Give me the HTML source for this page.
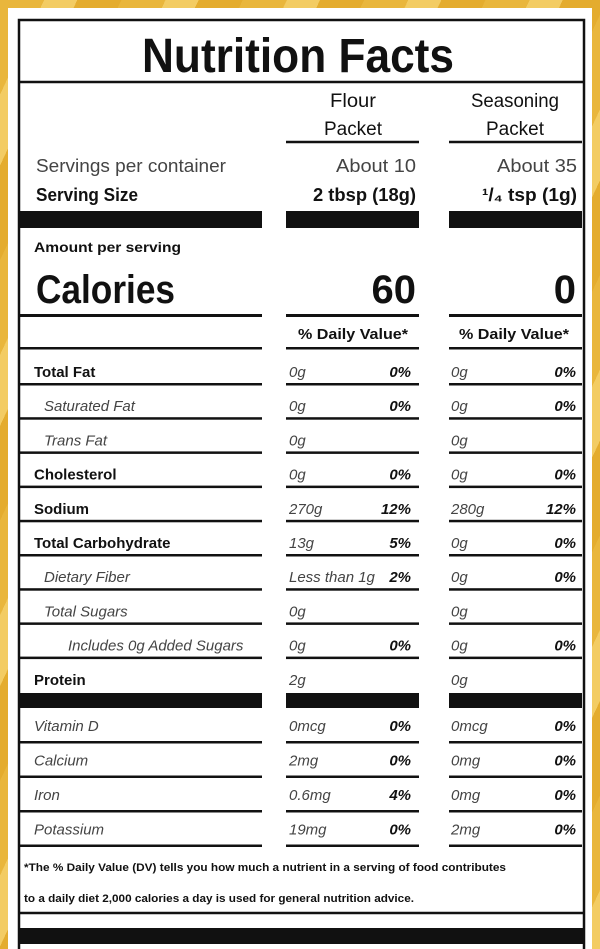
<!DOCTYPE html>
<html><head><meta charset="utf-8"><style>
html,body{margin:0;padding:0;width:600px;height:949px;overflow:hidden}
body{background:repeating-linear-gradient(115deg,#e9b63c 0 40px,#f3cc63 40px 70px,#e4ac2e 70px 110px);}
svg{position:absolute;left:0;top:0}
text{font-family:"Liberation Sans",sans-serif;fill:#111}
</style></head><body>
<svg id="lab" width="600" height="949">
<rect x="8" y="8" width="584" height="941" fill="#fff"/>
<rect x="19" y="20" width="565" height="940" fill="none" stroke="#111" stroke-width="2.5"/>
<text x="298" y="72" font-size="48" font-weight="bold" text-anchor="middle" textLength="312" lengthAdjust="spacingAndGlyphs">Nutrition Facts</text>
<line x1="19" y1="82" x2="584" y2="82" stroke="#111" stroke-width="2.5"/>
<text x="353" y="107" font-size="19" text-anchor="middle" textLength="46" lengthAdjust="spacingAndGlyphs">Flour</text>
<text x="353" y="135" font-size="19" text-anchor="middle" textLength="58" lengthAdjust="spacingAndGlyphs">Packet</text>
<text x="515" y="107" font-size="19" text-anchor="middle" textLength="88" lengthAdjust="spacingAndGlyphs">Seasoning</text>
<text x="515" y="135" font-size="19" text-anchor="middle" textLength="58" lengthAdjust="spacingAndGlyphs">Packet</text>
<line x1="286" y1="142" x2="419" y2="142" stroke="#111" stroke-width="2.5"/>
<line x1="449" y1="142" x2="582" y2="142" stroke="#111" stroke-width="2.5"/>
<text x="36" y="172" font-size="18" fill="#444" style="fill:#444" textLength="190" lengthAdjust="spacingAndGlyphs">Servings per container</text>
<text x="416" y="172" font-size="18" text-anchor="end" style="fill:#444" textLength="80" lengthAdjust="spacingAndGlyphs">About 10</text>
<text x="577" y="172" font-size="18" text-anchor="end" style="fill:#444" textLength="80" lengthAdjust="spacingAndGlyphs">About 35</text>
<text x="36" y="201" font-size="18" font-weight="bold" textLength="102" lengthAdjust="spacingAndGlyphs">Serving Size</text>
<text x="416" y="201" font-size="18" font-weight="bold" text-anchor="end" textLength="103" lengthAdjust="spacingAndGlyphs">2 tbsp (18g)</text>
<text x="577" y="201" font-size="18" font-weight="bold" text-anchor="end" textLength="95" lengthAdjust="spacingAndGlyphs">¹/₄ tsp (1g)</text>
<g id="thick"></g>
<text x="34" y="252" font-size="14" font-weight="bold" textLength="147" lengthAdjust="spacingAndGlyphs">Amount per serving</text>
<text x="36" y="303" font-size="40" font-weight="bold" textLength="139" lengthAdjust="spacingAndGlyphs">Calories</text>
<text x="416" y="303" font-size="40" font-weight="bold" text-anchor="end">60</text>
<text x="576" y="303" font-size="40" font-weight="bold" text-anchor="end">0</text>
<text x="353" y="339" font-size="15" font-weight="bold" text-anchor="middle" textLength="110" lengthAdjust="spacingAndGlyphs">% Daily Value*</text>
<text x="514" y="339" font-size="15" font-weight="bold" text-anchor="middle" textLength="110" lengthAdjust="spacingAndGlyphs">% Daily Value*</text>
<g id="rows"></g>
<text x="24" y="871" font-size="11" font-weight="bold" textLength="482" lengthAdjust="spacingAndGlyphs">*The % Daily Value (DV) tells you how much a nutrient in a serving of food contributes</text>
<text x="24" y="902" font-size="11" font-weight="bold" textLength="390" lengthAdjust="spacingAndGlyphs">to a daily diet 2,000 calories a day is used for general nutrition advice.</text>
<line x1="19" y1="913" x2="584" y2="913" stroke="#111" stroke-width="2.5"/>
<rect x="19" y="928" width="565" height="16" fill="#111"/>
</svg>
<script>
const nutrients=["Total Fat","Saturated Fat","Trans Fat","Cholesterol","Sodium","Total Carbohydrate","Dietary Fiber","Total Sugars","Includes 0g Added Sugars","Protein","Vitamin D","Calcium","Iron","Potassium"];
const flourAmt=["0g","0g","0g","0g","270g","13g","Less than 1g","0g","0g","2g","0mcg","2mg","0.6mg","19mg"];
const flourPct=["0%","0%","","0%","12%","5%","2%","","0%","","0%","0%","4%","0%"];
const seasAmt=["0g","0g","0g","0g","280g","0g","0g","0g","0g","0g","0mcg","0mg","0mg","2mg"];
const seasPct=["0%","0%","","0%","12%","0%","0%","","0%","","0%","0%","0%","0%"];
const indent=[0,1,1,0,0,0,1,1,2,0,0,0,0,0];
const boldName=[1,0,0,1,1,1,0,0,0,1,0,0,0,0];
const NS="http://www.w3.org/2000/svg";
const g=document.getElementById('rows'), th=document.getElementById('thick');
function rowY(i){return i<10?377+i*34.2:731+(i-10)*34.5;}
function mk(tag,attrs,parent){const e=document.createElementNS(NS,tag);for(const k in attrs)e.setAttribute(k,attrs[k]);parent.appendChild(e);return e;}
const cols=[[19,262],[286,419],[449,582]];
function seg(y,w,name){cols.forEach(c=>{const r=mk('rect',{x:c[0],y:y,width:c[1]-c[0],height:w,fill:'#111'},th);

});}
seg(211,17,'thick-rule');seg(693,15,'thick-rule');seg(314,3,'calorie-rule');seg(347,2.5,'dv-rule');
nutrients.forEach((n,i)=>{
 const y=rowY(i);
 const t=mk('text',{x:34+indent[i]*10+(indent[i]===2?14:0)-(indent[i]?0:0),y:y,'font-size':15,'font-weight':boldName[i]?'bold':'normal','font-style':boldName[i]?'normal':'italic'},g);
 t.style.fill=boldName[i]?'#111':'#444';t.textContent=n;
 
 
 const a=mk('text',{x:289,y:y,'font-size':15,'font-style':'italic'},g);a.style.fill='#444';a.textContent=flourAmt[i];
 
 
 const p=mk('text',{x:411,y:y,'font-size':15,'font-style':'italic','font-weight':'bold','text-anchor':'end'},g);p.textContent=flourPct[i];
 
 
 const b=mk('text',{x:451,y:y,'font-size':15,'font-style':'italic'},g);b.style.fill='#444';b.textContent=seasAmt[i];
 
 
 const q=mk('text',{x:576,y:y,'font-size':15,'font-style':'italic','font-weight':'bold','text-anchor':'end'},g);q.textContent=seasPct[i];
 
 
 if(i!==9){const ly=i<10?y+6:y+10;seg(ly,2.5,'row-rule');}
});
</script>
</body></html>
